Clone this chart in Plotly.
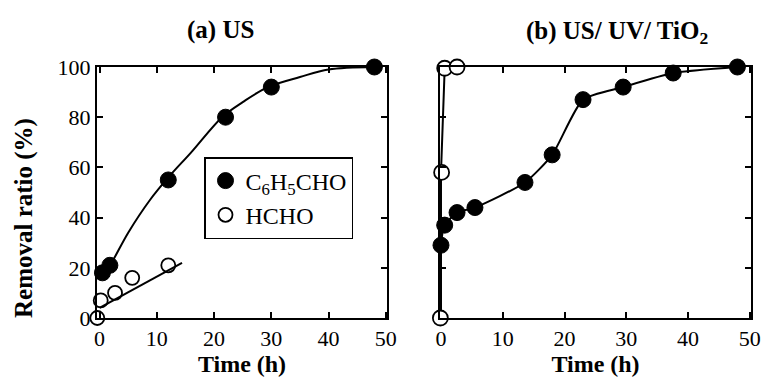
import plotly.graph_objects as go

# ---- data: panel (a) US ----
a_benz_t = [0.5, 1.8, 12, 22, 30, 48]
a_benz_y = [18, 21, 55, 80, 92, 100]
a_hcho_t = [-0.4, 0.2, 2.7, 5.7, 12]
a_hcho_y = [0, 7, 10, 16, 21]
# fitted curves
a_benz_fit_t = [0, 1.8, 5, 8.8, 12, 16, 21.4, 25, 29.4, 35, 40, 48]
a_benz_fit_y = [16, 21, 34, 47, 56, 66, 80, 86, 92, 96, 99, 100]
a_hcho_fit_t = [0, 14.4]
a_hcho_fit_y = [4, 22]

# ---- data: panel (b) US/UV/TiO2 ----
b_benz_t = [0, 0.6, 2.6, 5.5, 13.6, 18, 23, 29.5, 37.6, 48]
b_benz_y = [29, 37, 42, 44, 54, 65, 87, 92, 97.6, 100]
b_hcho_t = [-0.1, 0.1, 0.6, 2.6]
b_hcho_y = [0, 58, 99.5, 100]
b_benz_fit_t = [0, 0, 0.6, 2.6, 5.5, 13.6, 18, 23, 29.5, 37.6, 48]
b_benz_fit_y = [0, 29, 37, 42, 44, 54, 65, 87, 92, 97.6, 100]
b_hcho_fit_t = [0, 0, 0.6, 2.6]
b_hcho_fit_y = [0, 58, 99.5, 100]

x_ticks = [0, 10, 20, 30, 40, 50]
y_ticks = [0, 20, 40, 60, 80, 100]

FONT = "Liberation Serif"
W, H = 770, 389

fig = go.Figure()

line_style = dict(color="black", width=2)
filled = dict(symbol="circle", size=16, color="black", line=dict(color="black", width=1))
opened = dict(symbol="circle-open", size=14, color="black", line=dict(color="black", width=1.8))

# panel (a)
fig.add_trace(go.Scatter(x=a_benz_fit_t, y=a_benz_fit_y, mode="lines", line_shape="spline",
                         line=line_style, showlegend=False, xaxis="x", yaxis="y", cliponaxis=False))
fig.add_trace(go.Scatter(x=a_hcho_fit_t, y=a_hcho_fit_y, mode="lines",
                         line=line_style, showlegend=False, xaxis="x", yaxis="y", cliponaxis=False))
fig.add_trace(go.Scatter(x=a_benz_t, y=a_benz_y, mode="markers", marker=filled,
                         name="C<sub>6</sub>H<sub>5</sub>CHO", xaxis="x", yaxis="y", cliponaxis=False))
fig.add_trace(go.Scatter(x=a_hcho_t, y=a_hcho_y, mode="markers", marker=opened,
                         name="HCHO", xaxis="x", yaxis="y", cliponaxis=False))

# panel (b)
fig.add_trace(go.Scatter(x=b_benz_fit_t, y=b_benz_fit_y, mode="lines", line_shape="spline",
                         line=dict(color="black", width=2, smoothing=0.6),
                         showlegend=False, xaxis="x2", yaxis="y2", cliponaxis=False))
fig.add_trace(go.Scatter(x=b_hcho_fit_t, y=b_hcho_fit_y, mode="lines",
                         line=line_style, showlegend=False, xaxis="x2", yaxis="y2", cliponaxis=False))
fig.add_trace(go.Scatter(x=b_benz_t, y=b_benz_y, mode="markers", marker=filled,
                         showlegend=False, xaxis="x2", yaxis="y2", cliponaxis=False))
fig.add_trace(go.Scatter(x=b_hcho_t, y=b_hcho_y, mode="markers",
                         marker=dict(symbol="circle", size=15, color="white",
                                     line=dict(color="black", width=1.8)),
                         showlegend=False, xaxis="x2", yaxis="y2", cliponaxis=False))

axis_common = dict(showline=True, linecolor="black", linewidth=2, mirror="ticks",
                   ticks="inside", ticklen=6, tickwidth=1.5, tickcolor="black",
                   showgrid=False, zeroline=False, automargin=False,
                   tickfont=dict(family=FONT, size=22, color="black"))

ydom = [71 / H, 322 / H]
fig.update_layout(
    width=W, height=H,
    margin=dict(l=0, r=0, t=0, b=0),
    paper_bgcolor="white", plot_bgcolor="white",
    xaxis=dict(domain=[97 / W, 387 / W], range=[-0.45, 50.2], tickvals=x_ticks,
               anchor="y", **axis_common),
    yaxis=dict(domain=ydom, range=[0, 100], tickvals=y_ticks, anchor="x", **axis_common),
    xaxis2=dict(domain=[440 / W, 751 / W], range=[-0.16, 50.2], tickvals=x_ticks,
                anchor="y2", **axis_common),
    yaxis2=dict(domain=ydom, range=[0, 100], tickvals=y_ticks, anchor="x2",
                showticklabels=False, **axis_common),
    legend=dict(x=204 / W, y=1 - 157 / H, xanchor="left", yanchor="top",
                bordercolor="black", borderwidth=1.5, bgcolor="white",
                font=dict(family=FONT, size=24, color="black"),
                itemsizing="trace"),
    font=dict(family=FONT, color="black"),
)

fig.update_xaxes(title=dict(text="<b>Time (h)</b>", font=dict(family=FONT, size=24, color="black"),
                            standoff=4))

ann = [
    dict(text="<b>(a) US</b>", x=220 / W, y=1 - 30 / H),
    dict(text="<b>(b) US/ UV/ TiO<sub>2</sub></b>", x=617 / W, y=1 - 32 / H),
]
for a in ann:
    fig.add_annotation(xref="paper", yref="paper", showarrow=False,
                       xanchor="center", yanchor="middle",
                       font=dict(family=FONT, size=25, color="black"), **a)
fig.add_annotation(xref="paper", yref="paper", showarrow=False, x=24 / W, y=1 - 218 / H,
                   xanchor="center", yanchor="middle", textangle=-90,
                   text="<b>Removal ratio (%)</b>",
                   font=dict(family=FONT, size=25, color="black"))

fig.write_html("out.html")
